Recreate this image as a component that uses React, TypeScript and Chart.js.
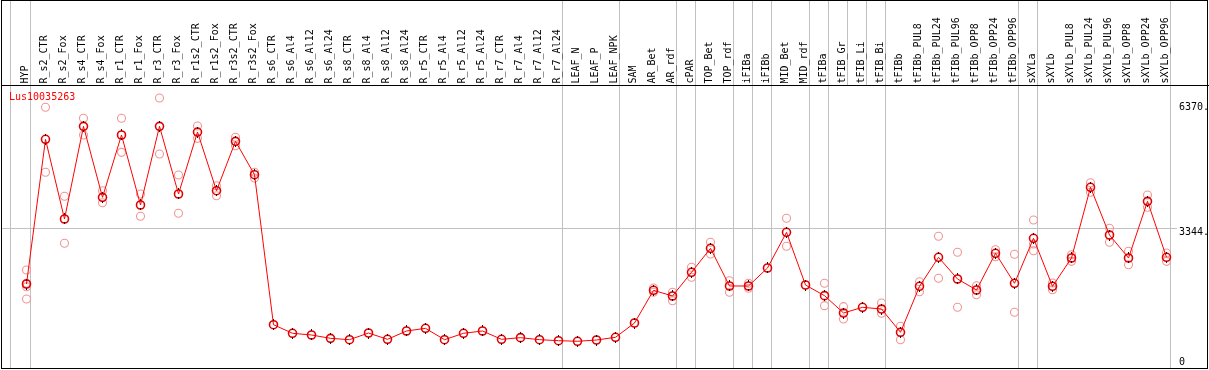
import React, { useEffect, useRef } from 'react';
import { Chart, registerables } from 'chart.js';

Chart.register(...registerables);

const categories = [
  'HYP', 'R_s2_CTR', 'R_s2_Fox', 'R_s4_CTR', 'R_s4_Fox', 'R_r1_CTR', 'R_r1_Fox', 'R_r3_CTR', 'R_r3_Fox',
  'R_r1s2_CTR', 'R_r1s2_Fox', 'R_r3s2_CTR', 'R_r3s2_Fox', 'R_s6_CTR', 'R_s6_Al4', 'R_s6_Al12', 'R_s6_Al24',
  'R_s8_CTR', 'R_s8_Al4', 'R_s8_Al12', 'R_s8_Al24', 'R_r5_CTR', 'R_r5_Al4', 'R_r5_Al12', 'R_r5_Al24',
  'R_r7_CTR', 'R_r7_Al4', 'R_r7_Al12', 'R_r7_Al24', 'LEAF_N', 'LEAF_P', 'LEAF_NPK', 'SAM', 'AR_Bet', 'AR_rdf',
  'cPAR', 'TOP_Bet', 'TOP_rdf', 'iFIBa', 'iFIBb', 'MID_Bet', 'MID_rdf', 'tFIBa', 'tFIB_Gr', 'tFIB_Li', 'tFIB_Bi',
  'tFIBb', 'tFIBb_PUL8', 'tFIBb_PUL24', 'tFIBb_PUL96', 'tFIBb_OPP8', 'tFIBb_OPP24', 'tFIBb_OPP96',
  'sXYLa', 'sXYLb', 'sXYLb_PUL8', 'sXYLb_PUL24', 'sXYLb_PUL96', 'sXYLb_OPP8', 'sXYLb_OPP24', 'sXYLb_OPP96',
];

const means = [
  1991, 5505, 3570, 5820, 4096, 5610, 3910, 5820, 4177, 5682, 4257, 5456, 4646,
  1003, 794, 753, 672, 639, 801, 648, 850, 915, 639, 794, 850, 648, 688, 639, 615,
  600, 631, 697, 1044, 1838, 1700, 2275, 2858, 1943, 1943, 2380, 3247, 1967,
  1708, 1287, 1425, 1384, 818, 1935, 2640, 2113, 1846, 2737, 2008,
  3101, 1935, 2623, 4340, 3181, 2623, 3999, 2640,
];

const N = null;
const repA = [
  2331, 6282, 4121, 6015, 4257, 6015, 4177, 6508, 4638, 5828, 4378, 5554, 4704,
  N, N, N, N, N, N, N, N, N, N, N, N, N, N, N, N,
  N, N, N, N, 1894, 1790, 2397, 3004, 2071, 2008, N, 3587, N,
  2008, 1441, N, 1530, 964, 2047, 3150, 2761, 1950, 2824, 2712,
  3545, 2016, 2703, 4451, 3344, 2785, 4153, 2744,
];
const repB = [
  2008, 4704, 2980, 5610, 3966, 5189, 3635, 5148, 3708, 5529, 4136, 5350, 4565,
  N, N, N, N, N, N, N, N, N, N, N, N, N, N, N, N,
  N, N, N, N, 1790, 1586, 2154, 2720, 1790, 1887, N, 2907, N,
  1465, 1141, N, 1280, 639, 1804, 2130, 1425, 1731, 2654, 1304,
  2800, 1853, 2542, 4218, 3004, 2460, 3854, 2542,
];
const repC = [
  1926, N, N, N, N, N, N, N, N, N, N, N, N,
  N, N, N, N, N, N, N, N, N, N, N, N, N, N, N, N,
  N, N, N, N, N, N, N, N, N, N, N, N, N,
  N, N, N, N, N, N, N, N, N, N, N,
  2963, N, N, N, N, N, N, N,
];
const repD = [
  1627, N, N, N, N, N, N, N, N, N, N, N, N,
  N, N, N, N, N, N, N, N, N, N, N, N, N, N, N, N,
  N, N, N, N, N, N, N, N, N, N, N, N, N,
  N, N, N, N, N, N, N, N, N, N, N,
  N, N, N, N, N, N, N, N,
];

const seriesName = 'Lus10035263';
const yTickValues = [0, 3344, 6370];
const yTickLabels = ['0', '3344.', '6370.'];
const yGridValues = [3344];
// group separators: drawn after these category indices
const plotSeparators = [-1, 0, 28, 31, 34, 35, 37, 38, 39, 41, 42, 45, 52, 53, 60];
const headerOnlySeparators = [43, 44];

const FONT = '10px "DejaVu Sans Mono", monospace';

export default function App() {
  const ref = useRef<HTMLCanvasElement | null>(null);

  useEffect(() => {
    if (!ref.current) return;

    const meanData = means.map((v, i) => ({ x: i, y: v }));
    const repData: { x: number; y: number }[] = [];
    [repA, repB, repC, repD].forEach((arr) =>
      arr.forEach((v, i) => {
        if (v !== null) repData.push({ x: i, y: v as number });
      })
    );

    const sepX = (xs: any, idx: number) => {
      const p = Math.floor(xs.getPixelForValue(idx));
      return idx < 0 ? p + 3.5 : p + 4.5;
    };

    const overlay = {
      id: 'overlay',
      beforeDatasetsDraw(chart: any) {
        const { ctx, chartArea: a, scales } = chart;
        const xs = scales.x;
        const ys = scales.y;
        ctx.save();
        ctx.strokeStyle = '#c0c0c0';
        ctx.lineWidth = 1;
        for (const v of yGridValues) {
          const py = Math.round(ys.getPixelForValue(v)) + 0.5;
          ctx.beginPath();
          ctx.moveTo(a.left, py);
          ctx.lineTo(a.right, py);
          ctx.stroke();
        }
        for (const idx of plotSeparators) {
          const px = sepX(xs, idx);
          ctx.beginPath();
          ctx.moveTo(px, 0);
          ctx.lineTo(px, a.bottom);
          ctx.stroke();
        }
        for (const idx of headerOnlySeparators) {
          const px = sepX(xs, idx);
          ctx.beginPath();
          ctx.moveTo(px, 0);
          ctx.lineTo(px, a.top);
          ctx.stroke();
        }
        ctx.restore();
      },
      afterDatasetsDraw(chart: any) {
        // small dark ticks on the mean markers
        const { ctx } = chart;
        const meta = chart.getDatasetMeta(0);
        ctx.save();
        ctx.fillStyle = 'rgb(70,0,0)';
        meta.data.forEach((pt: any) => {
          const cx = Math.floor(pt.x);
          const cy = Math.floor(pt.y);
          ctx.fillRect(cx, cy - 5, 1, 2);
          ctx.fillRect(cx, cy + 4, 1, 2);
        });
        ctx.restore();
      },
      afterDraw(chart: any) {
        const { ctx, chartArea: a, scales } = chart;
        const xs = scales.x;
        const ys = scales.y;
        ctx.save();
        ctx.strokeStyle = '#000';
        ctx.lineWidth = 1;
        ctx.strokeRect(1.5, 0.5, 1206, 368);
        ctx.beginPath();
        ctx.moveTo(1, a.top + 0.5);
        ctx.lineTo(1209, a.top + 0.5);
        ctx.stroke();

        ctx.font = FONT;
        ctx.fillStyle = '#000';
        ctx.textAlign = 'left';
        ctx.textBaseline = 'middle';
        categories.forEach((lab, i) => {
          const px = xs.getPixelForValue(i) - 1;
          ctx.save();
          ctx.translate(px, a.top - 1.5);
          ctx.rotate(-Math.PI / 2);
          ctx.fillText(lab, 0, 0);
          ctx.restore();
        });
        yTickValues.forEach((v, k) => {
          const py = Math.min(ys.getPixelForValue(v) + 4, a.bottom - 6);
          ctx.fillText(yTickLabels[k], a.right + 2, py);
        });
        ctx.fillStyle = 'rgb(255,0,0)';
        ctx.fillText(seriesName, 9, a.top + 12.5);
        ctx.restore();
      },
    };

    const chart = new Chart(ref.current, {
      type: 'line',
      data: {
        datasets: [
          {
            data: meanData,
            borderColor: 'rgb(255,0,0)',
            borderWidth: 1,
            pointStyle: 'circle',
            pointRadius: 4,
            pointBorderWidth: 1.6,
            pointBorderColor: 'rgb(225,0,0)',
            pointBackgroundColor: 'rgba(0,0,0,0)',
            tension: 0,
            order: 0,
          } as any,
          {
            type: 'scatter',
            data: repData,
            showLine: false,
            pointStyle: 'circle',
            pointRadius: 4,
            pointBorderWidth: 1.1,
            pointBorderColor: 'rgb(240,150,150)',
            pointBackgroundColor: 'rgba(0,0,0,0)',
            order: 1,
          } as any,
        ],
      },
      options: {
        animation: false,
        responsive: false,
        events: [],
        layout: { autoPadding: false, padding: { left: 1, right: 32, top: 85, bottom: 2 } },
        plugins: { legend: { display: false }, tooltip: { enabled: false } },
        scales: {
          x: { type: 'linear', min: -1.34211, max: 60.55263, display: false },
          y: { type: 'linear', min: -48.57, max: 6824, display: false },
        },
      },
      plugins: [overlay],
    });
    return () => chart.destroy();
  }, []);

  return (
    <div style={{ position: 'absolute', left: 0, top: 0, width: 1209, height: 370, background: '#fff' }}>
      <canvas ref={ref} width={1209} height={370} style={{ display: 'block', width: 1209, height: 370 }} />
    </div>
  );
}
